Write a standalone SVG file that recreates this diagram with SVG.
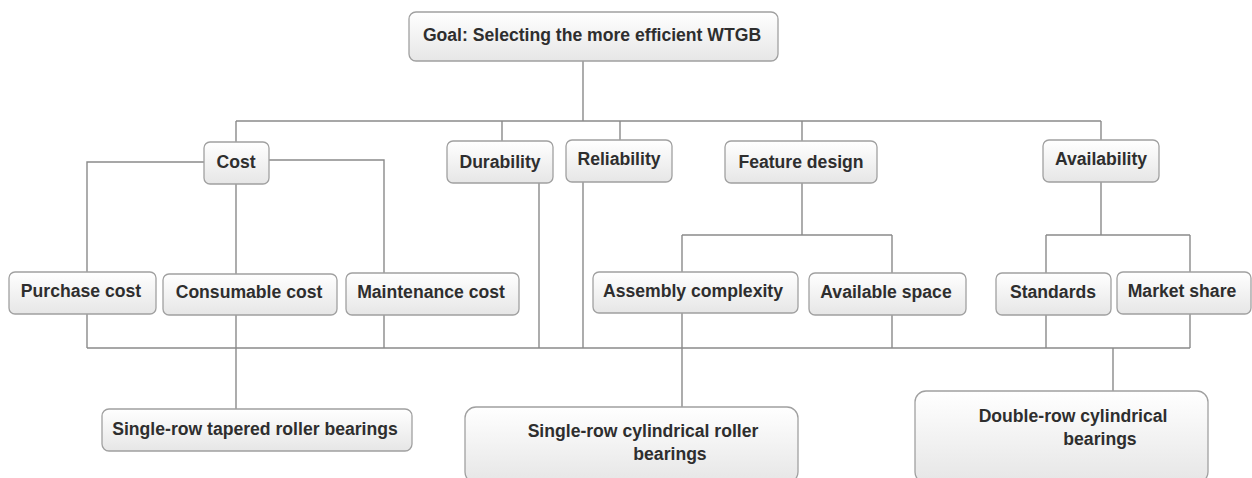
<svg xmlns="http://www.w3.org/2000/svg" width="1252" height="478" viewBox="0 0 1252 478">
<defs>
<linearGradient id="g" x1="0" y1="0" x2="0" y2="1">
<stop offset="0" stop-color="#ffffff"/>
<stop offset="1" stop-color="#e6e6e6"/>
</linearGradient>
<style>
.b{fill:url(#g);stroke:#a0a0a0;stroke-width:1.3}
.t{font-family:"Liberation Sans",Arial,sans-serif;font-weight:bold;font-size:17.6px;fill:#2e2e2e;text-anchor:middle}
.c{fill:none;stroke:#8a8a8a;stroke-width:1.4}
</style>
</defs>
<rect width="1252" height="478" fill="#ffffff"/>
<g id="connectors">
<path class="c" d="M583 61V121M236 121H1101M236 121V142M502 121V141M620 121V140M802 121V141M1101 121V140
M204 162H87V272M269 160H384V273M236 184V274
M802 183V235M682 235H892M682 235V272M892 235V273
M1101 182V235M1046 235H1190M1046 235V273M1190 235V272
M87 314V348M236 315V348M384 315V348M539 183V348M583 182V348M682 313V348M892 315V348M1046 315V348M1190 314V348M87 348H1190
M236 348V409M682 348V407M1113 348V391"/>
</g>
<g id="goal"><rect class="b" x="409" y="12" width="369" height="49" rx="7"/><text class="t" x="592" y="41">Goal: Selecting the more efficient WTGB</text></g>
<g id="cost"><rect class="b" x="204" y="142" width="65" height="42" rx="6"/><text class="t" x="236" y="168">Cost</text></g>
<g id="durability"><rect class="b" x="447" y="141" width="106" height="42" rx="6"/><text class="t" x="500" y="168">Durability</text></g>
<g id="reliability"><rect class="b" x="566" y="140" width="106" height="42" rx="6"/><text class="t" x="619" y="165">Reliability</text></g>
<g id="feature-design"><rect class="b" x="725" y="141" width="152" height="42" rx="6"/><text class="t" x="801" y="168">Feature design</text></g>
<g id="availability"><rect class="b" x="1043" y="140" width="116" height="42" rx="6"/><text class="t" x="1101" y="165">Availability</text></g>
<g id="purchase-cost"><rect class="b" x="9" y="272" width="147" height="42" rx="6"/><text class="t" x="81" y="297">Purchase cost</text></g>
<g id="consumable-cost"><rect class="b" x="163" y="274" width="174" height="41" rx="6"/><text class="t" x="249" y="298">Consumable cost</text></g>
<g id="maintenance-cost"><rect class="b" x="346" y="273" width="173" height="42" rx="6"/><text class="t" x="431" y="298">Maintenance cost</text></g>
<g id="assembly-complexity"><rect class="b" x="593" y="272" width="205" height="41" rx="6"/><text class="t" x="693" y="297">Assembly complexity</text></g>
<g id="available-space"><rect class="b" x="809" y="273" width="157" height="42" rx="6"/><text class="t" x="886" y="298">Available space</text></g>
<g id="standards"><rect class="b" x="996" y="273" width="115" height="42" rx="6"/><text class="t" x="1053" y="298">Standards</text></g>
<g id="market-share"><rect class="b" x="1117" y="272" width="134" height="42" rx="6"/><text class="t" x="1182" y="297">Market share</text></g>
<g id="single-row-tapered"><rect class="b" x="102" y="409" width="310" height="42" rx="7"/><text class="t" x="255" y="435">Single-row tapered roller bearings</text></g>
<g id="single-row-cylindrical"><rect class="b" x="465" y="407" width="333" height="76" rx="11"/><text class="t" x="643" y="437">Single-row cylindrical roller</text><text class="t" x="670" y="460">bearings</text></g>
<g id="double-row-cylindrical"><rect class="b" x="915" y="391" width="293" height="92" rx="11"/><text class="t" x="1073" y="422">Double-row cylindrical</text><text class="t" x="1100" y="445">bearings</text></g>
</svg>
